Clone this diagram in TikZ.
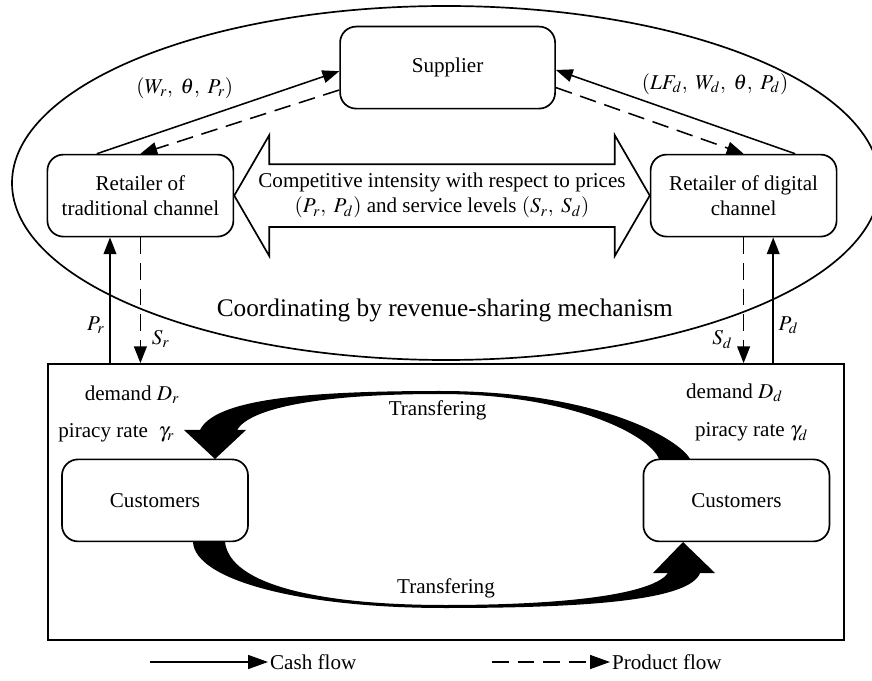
\documentclass[tikz,border=0pt]{standalone}
\usepackage{ mathptmx }
\usepackage{ fontspec }
\setmainfont{Liberation Serif}
\usepackage{ tikz }
\usetikzlibrary{ arrows.meta, calc }

\begin{document}
\begin{tikzpicture}[
    font=\fontsize{15}{18}\selectfont,
    party/.style={draw, line width=1.2pt, rounded corners=0.4cm, minimum width=4.65cm,
      minimum height=2.05cm, inner sep=0pt, align=center},
    cash/.style={line width=1.1pt, -{Triangle[length=0.42cm, width=0.32cm]}},
    goods/.style={cash, dash pattern=on 0.42cm off 0.22cm}
  ]
  \useasboundingbox (0,0) rectangle (21.8,17);

  % Revenue-sharing ellipse
  \draw[line width=1.2pt] (11.15,12.425) ellipse (10.85 and 4.425);
  \node[font=\fontsize{18}{21}\selectfont] (coord) at (11.12,9.25) {Coordinating by revenue-sharing mechanism};

  % Supplier and retailers
  \node[party, minimum width=5.375cm] (sup) at (11.19,15.31) {Supplier};
  \node[party] (trad) at (3.51,12.11) {Retailer of\\traditional channel};
  \node[party] (dig) at (18.59,12.11) {Retailer of digital\\channel};

  % Contracts with the supplier
  \draw[cash] ([xshift=-1.09cm]trad.north) -- ([yshift=-0.09cm]sup.west);
  \draw[goods] ([yshift=-0.56cm]sup.west) -- (trad.north);
  \draw[cash] ([xshift=1.29cm]dig.north) -- ([yshift=-0.06cm]sup.east);
  \draw[goods] ([yshift=-0.5cm]sup.east) -- (dig.north);
  \node (termR) at (4.62,14.8) {$(W_r,\ \theta,\ P_r)$};
  \node (termD) at (17.875,14.9) {$(LF_d,\ W_d,\ \theta,\ P_d)$};

  % Competition between the retailers
  \draw[line width=1.2pt] (trad.east) -- ++(0.875,1.51) -- ++(0,-0.725)
    -- ($(dig.west)+(-0.875,0.785)$) -- ++(0,0.725) -- (dig.west)
    -- ++(-0.875,-1.51) -- ++(0,0.725) -- ($(trad.east)+(0.875,-0.785)$)
    -- ++(0,-0.725) -- cycle;
  \node[align=center] (compet) at ($(trad.east)!0.5!(dig.west)$)
    {Competitive intensity with respect to prices\\$(P_r,\ P_d)$ and service levels $(S_r,\ S_d)$};

  % Market with the customers
  \node[draw, line width=1.2pt, minimum width=19.9cm, minimum height=6.9cm] (market) at (11.15,4.45) {};
  \node[party] (custL) at (3.875,4.49) {Customers};
  \node[party] (custR) at (18.41,4.49) {Customers};
  \node (demR) at (3.3,7.125) {demand $D_r$};
  \node (piraR) at (2.91,6.175) {piracy rate\ \ $\gamma_r$};
  \node (demD) at (18.36,7.175) {demand $D_d$};
  \node (piraD) at (18.79,6.2) {piracy rate $\gamma_d$};

  % Prices and service levels
  \coordinate (payR) at ([xshift=-0.76cm]trad.south);
  \coordinate (payD) at ([xshift=0.74cm]dig.south);
  \draw[cash] (payR |- market.north) -- node[pos=0.3, left] {$P_r$} (payR);
  \draw[goods] (trad.south) -- node[pos=0.81, right=0.15cm] {$S_r$} (trad.south |- market.north);
  \draw[goods] (dig.south) -- node[pos=0.81, left=0.15cm] {$S_d$} (dig.south |- market.north);
  \draw[cash] (payD |- market.north) -- node[pos=0.3, right] {$P_d$} (payD);

  % Transfering customers
  \fill (17.25,5.525) .. controls (17.0,6.0) and (15.0,7.225) .. (11.0,7.225)
    .. controls (7.5,7.225) and (5.375,7.0) .. (5.0,6.25)
    -- (4.6,6.25) -- (5.375,5.525) -- (6.15,6.25) -- (5.925,6.25)
    .. controls (6.25,6.8) and (8.0,7.15) .. (11.0,7.15)
    .. controls (14.25,7.15) and (16.25,6.125) .. (16.475,5.525) -- cycle;
  \fill (4.825,3.45) .. controls (4.875,2.5) and (7.5,1.8) .. (11.125,1.8)
    .. controls (14.75,1.8) and (17.25,2.0) .. (17.5,2.675)
    -- (17.875,2.675) -- (17.075,3.45) -- (16.325,2.675) -- (16.7,2.675)
    .. controls (16.375,2.2) and (14.5,1.875) .. (11.125,1.875)
    .. controls (8.0,1.875) and (5.75,2.375) .. (5.625,3.45) -- cycle;
  \node (moveTop) at (10.94,6.75) {Transfering};
  \node (moveBot) at (11.15,2.3) {Transfering};

  % Legend
  \coordinate (cashA) at (3.75,0.45);
  \coordinate (goodsA) at (12.3,0.45);
  \draw[cash, -{Triangle[length=0.5cm, width=0.35cm]}] (cashA) -- (6.7,0.45)
    node[right, inner sep=1pt] (cashLbl) {Cash flow};
  \draw[goods, -{Triangle[length=0.5cm, width=0.35cm]}] (goodsA) -- (15.25,0.45)
    node[right, inner sep=1pt] (goodsLbl) {Product flow};
\end{tikzpicture}
\end{document}
